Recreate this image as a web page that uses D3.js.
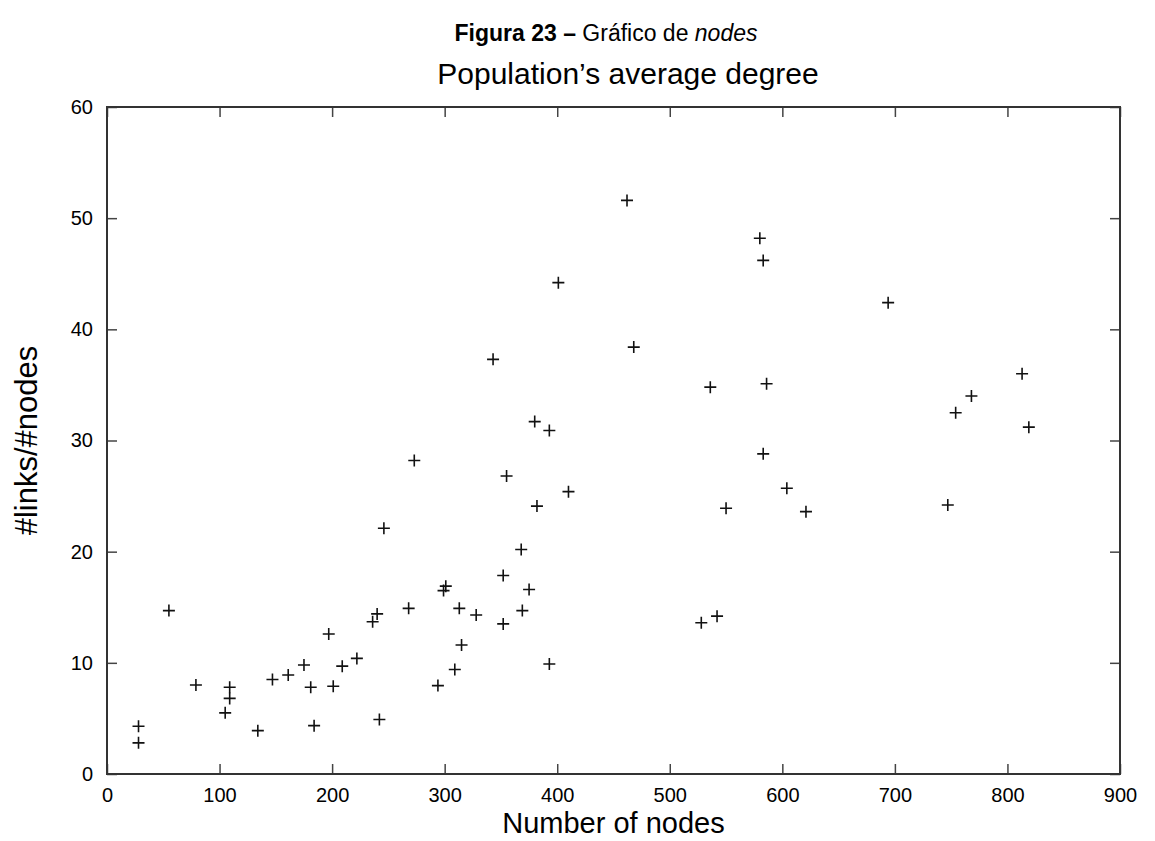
<!DOCTYPE html>
<html lang="pt">
<head>
<meta charset="UTF-8">
<title>Figura 23 – Gráfico de nodes</title>
<style>
  body { margin: 0; background: #fff; font-family: "Liberation Sans", Arial, sans-serif; }
  svg { display: block; }
</style>
</head>
<body>
<svg width="1155" height="841"></svg>
<script src="https://cdnjs.cloudflare.com/ajax/libs/d3/7.8.5/d3.min.js"></script>
<script>
// Data

const nodes = [28, 28, 55, 79, 105, 109, 109, 134, 147, 161, 175, 181, 184, 197, 201, 209, 222, 236, 240, 242,
  246, 268, 273, 294, 299, 301, 309, 313, 315, 328, 343, 352, 352, 355, 368, 369, 375, 380, 382, 393,
  393, 401, 410, 462, 468, 528, 536, 542, 550, 580, 583, 583, 586, 604, 621, 694, 747, 754, 768, 813, 819];
const degree = [4.3, 2.8, 14.7, 8.0, 5.5, 7.8, 6.8, 3.9, 8.5, 8.9, 9.8, 7.8, 4.35, 12.6, 7.9, 9.7, 10.4, 13.7, 14.4, 4.9,
  22.1, 14.9, 28.2, 7.95, 16.5, 16.9, 9.4, 14.9, 11.6, 14.3, 37.3, 17.85, 13.5, 26.8, 20.2, 14.7, 16.6, 31.7, 24.1, 30.9,
  9.9, 44.2, 25.4, 51.6, 38.4, 13.6, 34.8, 14.2, 23.9, 48.2, 28.8, 46.2, 35.1, 25.7, 23.6, 42.4, 24.2, 32.5, 34.0, 36.0, 31.2];

const xTicks = [0, 100, 200, 300, 400, 500, 600, 700, 800, 900];
const yTicks = [0, 10, 20, 30, 40, 50, 60];

// Layout

const margin = {left: 107, right: 1120, top: 107, bottom: 774};

const svg = d3.select("svg");

const x = d3.scaleLinear().domain([0, 900]).range([margin.left, margin.right]);
const y = d3.scaleLinear().domain([0, 60]).range([margin.bottom, margin.top]);

// Captions

svg.append("text")
  .attr("x", 606).attr("y", 41)
  .attr("text-anchor", "middle")
  .attr("font-size", 23)
  .call(t => {
    t.append("tspan").attr("font-weight", "bold").text("Figura 23 – ");
    t.append("tspan").text("Gráfico de ");
    t.append("tspan").attr("font-style", "italic").text("nodes");
  });

svg.append("text")
  .attr("x", 628).attr("y", 84)
  .attr("text-anchor", "middle")
  .attr("font-size", 30)
  .text("Population’s average degree");

// Axes

const styleAxis = g => {
  g.select(".domain").remove();
  g.selectAll(".tick line").attr("stroke", "#444").attr("stroke-width", 1.5);
  g.selectAll(".tick text").attr("fill", "#000").attr("font-size", 20)
    .attr("font-family", "Liberation Sans, Arial, sans-serif");
};

svg.append("g")
  .attr("transform", `translate(0,${margin.bottom})`)
  .call(d3.axisBottom(x).tickValues(xTicks).tickSize(-10).tickPadding(14))
  .call(styleAxis);

svg.append("g")
  .attr("transform", `translate(0,${margin.top})`)
  .call(d3.axisTop(x).tickValues(xTicks).tickSize(-10).tickFormat(""))
  .call(styleAxis);

svg.append("g")
  .attr("transform", `translate(${margin.left},0)`)
  .call(d3.axisLeft(y).tickValues(yTicks).tickSize(-10).tickPadding(14))
  .call(styleAxis);

svg.append("g")
  .attr("transform", `translate(${margin.right},0)`)
  .call(d3.axisRight(y).tickValues(yTicks).tickSize(-10).tickFormat(""))
  .call(styleAxis);

// Frame

svg.append("rect")
  .attr("x", margin.left).attr("y", margin.top)
  .attr("width", margin.right - margin.left)
  .attr("height", margin.bottom - margin.top)
  .attr("fill", "none")
  .attr("stroke", "#333")
  .attr("stroke-width", 2);

// Axis titles

svg.append("text")
  .attr("x", (margin.left + margin.right) / 2).attr("y", 833)
  .attr("text-anchor", "middle")
  .attr("font-size", 29)
  .text("Number of nodes");

svg.append("text")
  .attr("transform", `translate(37,${(margin.top + margin.bottom) / 2}) rotate(-90)`)
  .attr("text-anchor", "middle")
  .attr("font-size", 31)
  .text("#links/#nodes");

// Points

svg.append("g")
  .selectAll("path")
  .data(d3.range(nodes.length))
  .join("path")
    .attr("transform", i => `translate(${x(nodes[i])},${y(degree[i])})`)
    .attr("d", "M-6,0H6M0,-6V6")
    .attr("stroke", "#111")
    .attr("stroke-width", 1.6)
    .attr("fill", "none");
</script>
</body>
</html>
